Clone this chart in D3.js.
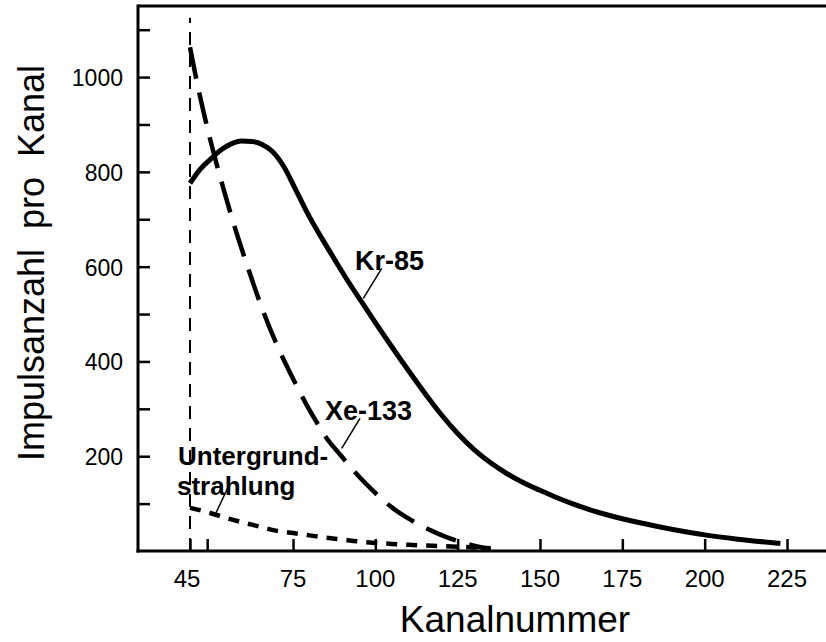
<!DOCTYPE html>
<html>
<head>
<meta charset="utf-8">
<script src="https://cdn.jsdelivr.net/npm/d3@7"></script>
<style>
  html, body { margin: 0; padding: 0; background: #fff; }
  svg { display: block; font-family: "Liberation Sans", Arial, sans-serif; }
</style>
</head>
<body>
<svg id="chart" width="826" height="642"></svg>
<script>
// ---- data ----
const xTicks = [45, 50, 75, 100, 125, 150, 175, 200, 225];
const xTickLabels = ["45", "", "75", "100", "125", "150", "175", "200", "225"];
const yTicks = [100, 200, 300, 400, 500, 600, 700, 800, 900, 1000, 1100];
const yTickLabels = ["", "200", "", "400", "", "600", "", "800", "", "1000", ""];

const kr85 = [[45,776],[48,806],[51,827],[54,846],[57,859],[60,865],[63,864],[66,858],[69,843],[72,815],[76,760],[80,705],[84,657],[88,611],[92,566],[96,524],[100,482],[104,441],[108,401],[112,362],[116,324],[120,288],[125,248],[130,214],[135,186],[140,163],[145,144],[150,128],[155,113],[160,99.5],[165,87.5],[170,77],[175,68],[180,60],[190,46],[200,34],[210,25],[223,16]];
const xe133 = [[45,1063],[47,990],[49,925],[51,865],[53,810],[55,758],[57,708],[59,661],[62,595],[66,512],[70,440],[73,393],[76,350],[79,310],[82,274],[85,240],[89,206],[93,173],[97,143],[101,116],[105,92],[109,73],[113,57],[117,43],[121,31],[125,21],[130,11],[135,4]];
const untergrund = [[45,91],[50,82],[55,71],[60,61],[65,52],[70,43],[75,38],[80,33],[85,28],[90,24],[95,20],[100,17],[105,15],[110,13],[115,11.5],[120,10.5],[125,9],[130,7.5],[135,6]];
const markerLine = [[45,0],[45,1125]];

// ---- layout ----
const svg = d3.select("#chart");
const W = 826, H = 642;
const mLeft = 138, mRight = 826, mTop = 6, mBottom = 551;

const x = d3.scaleLinear().domain([45, 75, 225]).range([190, 293, 787]);
const y = d3.scaleLinear().domain([0, 1150]).range([mBottom, mTop]);

svg.append("rect").attr("width", W).attr("height", H).attr("fill", "#fff");

// frame: top line
svg.append("line").attr("x1", mLeft).attr("x2", mRight).attr("y1", mTop).attr("y2", mTop)
  .attr("stroke", "#000").attr("stroke-width", 3);

// y axis
const yAxis = d3.axisRight(y).tickValues(yTicks).tickSize(12).tickFormat("");
const gy = svg.append("g").attr("transform", `translate(${mLeft},0)`).call(yAxis);
gy.select(".domain").remove();
gy.selectAll(".tick line").attr("stroke", "#000").attr("stroke-width", 2.5);
svg.append("line").attr("x1", mLeft).attr("x2", mLeft).attr("y1", mTop - 1.5).attr("y2", mBottom + 1.5)
  .attr("stroke", "#000").attr("stroke-width", 3);

svg.append("g").selectAll("text").data(yTicks).join("text")
  .attr("x", 123).attr("y", d => y(d) + 9)
  .attr("text-anchor", "end").attr("font-size", 23).attr("fill", "#000")
  .text((d, i) => yTickLabels[i]);

// x axis
const xAxis = d3.axisTop(x).tickValues(xTicks).tickSize(12).tickFormat("");
const gx = svg.append("g").attr("transform", `translate(0,${mBottom})`).call(xAxis);
gx.select(".domain").remove();
gx.selectAll(".tick line").attr("stroke", "#000").attr("stroke-width", 2.5);
svg.append("line").attr("x1", mLeft - 1.5).attr("x2", mRight).attr("y1", mBottom).attr("y2", mBottom)
  .attr("stroke", "#000").attr("stroke-width", 3);

svg.append("g").selectAll("text").data(xTicks).join("text")
  .attr("x", d => x(d) - (d === 45 ? 3 : 0)).attr("y", 587)
  .attr("text-anchor", "middle").attr("font-size", 24).attr("fill", "#000")
  .text((d, i) => xTickLabels[i]);

// axis titles
svg.append("text").attr("x", 515).attr("y", 632).attr("text-anchor", "middle")
  .attr("font-size", 37).attr("fill", "#000").text("Kanalnummer");
svg.append("text").attr("transform", "translate(44,263) rotate(-90)")
  .attr("text-anchor", "middle").attr("font-size", 36).attr("fill", "#000")
  .style("white-space", "pre")
  .text("Impulsanzahl  pro  Kanal");

// curves
const line = d3.line().x(d => x(d[0])).y(d => y(d[1])).curve(d3.curveMonotoneX);

svg.append("path").datum(markerLine)
  .attr("d", d3.line().x(d => x(d[0])).y(d => y(d[1])))
  .attr("stroke", "#000").attr("stroke-width", 2).attr("stroke-dasharray", "13,9").attr("fill", "none");

svg.append("path").datum(untergrund).attr("d", line)
  .attr("fill", "none").attr("stroke", "#000").attr("stroke-width", 4.5)
  .attr("stroke-dasharray", "11,9");

svg.append("path").datum(xe133).attr("d", line)
  .attr("fill", "none").attr("stroke", "#000").attr("stroke-width", 4.5)
  .attr("stroke-dasharray", "32,14");

svg.append("path").datum(kr85).attr("d", line)
  .attr("fill", "none").attr("stroke", "#000").attr("stroke-width", 5)
  .attr("stroke-linejoin", "round");

// annotations
const ann = svg.append("g").attr("font-weight", "bold").attr("fill", "#000");
ann.append("text").attr("x", 355).attr("y", 270).attr("font-size", 27).text("Kr-85");
ann.append("text").attr("x", 325).attr("y", 420).attr("font-size", 27).text("Xe-133");
ann.append("text").attr("x", 178).attr("y", 465).attr("font-size", 26).text("Untergrund-");
ann.append("text").attr("x", 177).attr("y", 495).attr("font-size", 26).text("strahlung");

// leader lines
const leaders = [[381.7, 268.3, 363.3, 298.3], [360, 418.3, 341.7, 448.3], [228.3, 486.7, 215, 515]];
svg.append("g").selectAll("line").data(leaders).join("line")
  .attr("x1", d => d[0]).attr("y1", d => d[1]).attr("x2", d => d[2]).attr("y2", d => d[3])
  .attr("stroke", "#000").attr("stroke-width", 1.5);
</script>
</body>
</html>
